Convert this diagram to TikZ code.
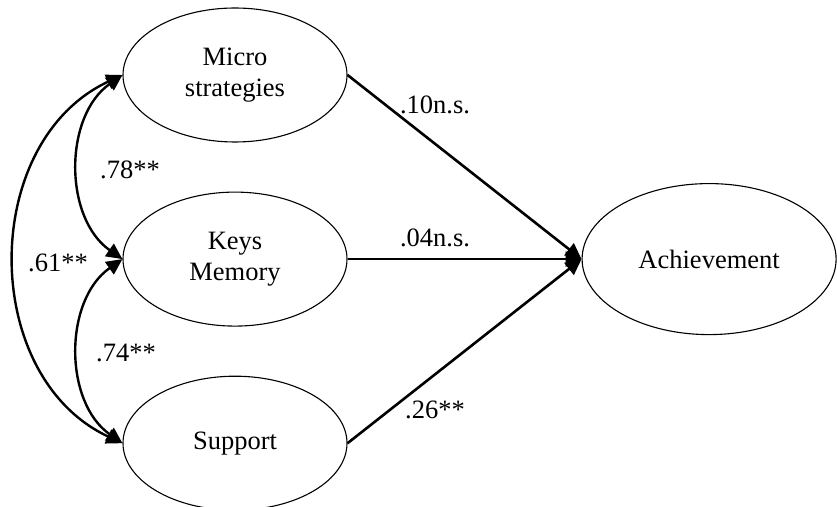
\documentclass[tikz,border=0pt]{standalone}
\usepackage{fontspec}
\setmainfont{Liberation Serif}
\usetikzlibrary{shapes.geometric,arrows.meta,positioning}
\tikzset{
factor/.style = {draw, ellipse, line width=1.1pt, inner sep=0pt, minimum width=224pt, minimum height=134pt, align=center},
outcome/.style = {factor, minimum width=254pt, minimum height=151pt},
regline/.style = {-{Triangle[length=16pt,width=15pt]}, line width=2.6pt},
corrline/.style = {{Triangle[length=16pt,width=15pt]}-{Triangle[length=16pt,width=15pt]}, line width=2.4pt},
coef/.style = {inner sep=0pt}
}

\begin{document}
\begin{tikzpicture}[x=1pt, y=1pt, node distance=49pt, font=\fontsize{26.5}{31}\selectfont]
  \useasboundingbox (0,0) rectangle (837,506);
  \node [factor] (micro) at (235,431) {Micro\\strategies};
  \node [factor, below=of micro] (keys) {Keys\\Memory};
  \node [factor, below=of keys] (support) {Support};
  \node [outcome, right=234pt of keys] (ach) {Achievement};

  % path coefficients
  \node [coef] (c10) at (435,401) {.10n.s.};
  \node [coef] (c04) at (435,268) {.04n.s.};
  \node [coef] (c26) at (435,96) {.26**};
  % correlations
  \node [coef] (c78) at (130,336) {.78**};
  \node [coef] (c61) at (58,243) {.61**};
  \node [coef] (c74) at (126,153) {.74**};

  \draw [regline] (micro.east) -- (ach.west);
  \draw [regline] (keys.east) -- (ach.west);
  \draw [regline] (support.east) -- (ach.west);

  \draw [corrline] (micro.west) to[out=215, in=145] (keys.west);
  \draw [corrline] (keys.west) to[out=215, in=145] (support.west);
  \draw [corrline] (micro.west) to[out=205, in=155, looseness=1.1] (support.west);
\end{tikzpicture}
\end{document}
